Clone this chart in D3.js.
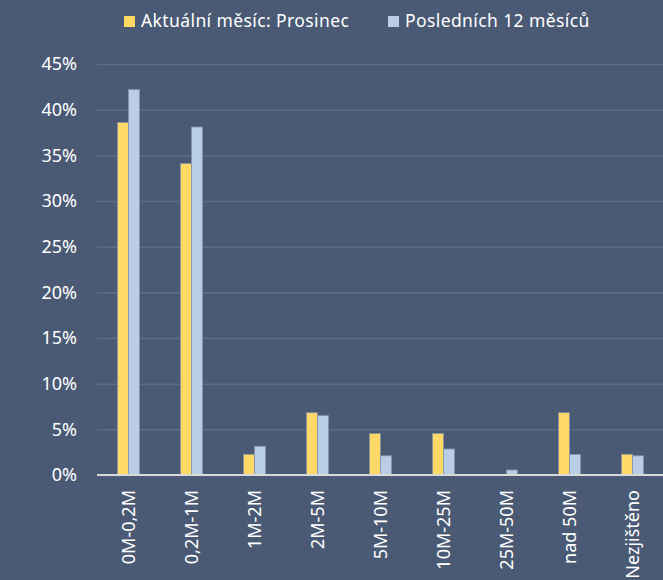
<!DOCTYPE html>
<html>
<head>
<meta charset="utf-8">
<script src="https://cdn.jsdelivr.net/npm/d3@7"></script>
<style>
  html, body { margin: 0; padding: 0; background: #4a5a74; }
  svg { display: block; }
  text { font-family: "Noto Sans", "Open Sans", sans-serif; fill: #ffffff; }
</style>
</head>
<body>
<script>
// Chart data.
var categories = ["0M-0,2M", "0,2M-1M", "1M-2M", "2M-5M", "5M-10M",
                  "10M-25M", "25M-50M", "nad 50M", "Nezjištěno"];
var seriesNames = ["Aktuální měsíc: Prosinec", "Posledních 12 měsíců"];
var currentMonth = [38.6, 34.1, 2.27, 6.82, 4.55, 4.55, 0, 6.82, 2.27];
var last12Months = [42.2, 38.1, 3.15, 6.5, 2.1, 2.85, 0.55, 2.25, 2.1];
var yTicks = [0, 5, 10, 15, 20, 25, 30, 35, 40, 45];
var colors = ["#ffd966", "#b9cde5"];

var width = 663,
    height = 580,
    margin = {top: 64, right: 0, bottom: 105, left: 97};

var svg = d3.select("body")
            .append("svg")
            .attr("width", width)
            .attr("height", height);

svg.append("rect")
   .attr("width", width)
   .attr("height", height)
   .attr("fill", "#4a5a74");

var x0 = d3.scaleBand()
           .domain(categories)
           .range([margin.left, width + 1])
           .paddingInner(0.65)
           .paddingOuter(0.325);

var x1 = d3.scaleBand()
           .domain([0, 1])
           .range([0, x0.bandwidth()]);

var y = d3.scaleLinear()
          .domain([0, 45])
          .range([height - margin.bottom, margin.top]);

// Gridlines and y labels
var yAxis = d3.axisLeft(y)
              .tickValues(yTicks)
              .tickSize(-(width - margin.left))
              .tickPadding(20)
              .tickFormat(function(d) { return d + "%"; });

var gy = svg.append("g")
            .attr("class", "y axis")
            .attr("transform", "translate(" + margin.left + ",0)")
            .call(yAxis);
gy.select(".domain").remove();
gy.selectAll(".tick line")
  .attr("stroke", "#5b6d89")
  .attr("stroke-width", 1.5);
gy.selectAll(".tick text")
  .attr("font-size", 18)
  .attr("fill", "#ffffff");

// Bars
var data = categories.map(function(c, i) {
    return {cat: c, values: [currentMonth[i], last12Months[i]]};
});

var groups = svg.selectAll("g.group")
                .data(data)
                .enter()
                .append("g")
                .attr("class", "group")
                .attr("transform", function(d) { return "translate(" + x0(d.cat) + ",0)"; });

groups.selectAll("rect")
      .data(function(d) { return d.values.map(function(v, k) { return {k: k, v: v}; }); })
      .enter()
      .filter(function(d) { return d.v > 0; })
      .append("rect")
      .attr("x", function(d) { return x1(d.k); })
      .attr("y", function(d) { return y(d.v); })
      .attr("width", x1.bandwidth())
      .attr("height", function(d) { return y(0) - y(d.v); })
      .attr("fill", function(d) { return colors[d.k]; })
      .attr("stroke", "#8593a8")
      .attr("stroke-width", 0.8);

// Zero line
svg.append("line")
   .attr("x1", margin.left)
   .attr("x2", width)
   .attr("y1", y(0))
   .attr("y2", y(0))
   .attr("stroke", "#d9d9d9")
   .attr("stroke-width", 2);

// Category labels
var xAxis = d3.axisBottom(x0).tickSize(0).tickPadding(0);
var gx = svg.append("g")
            .attr("class", "x axis")
            .attr("transform", "translate(0," + (y(0) + 15) + ")")
            .call(xAxis);
gx.select(".domain").remove();
gx.selectAll(".tick text")
  .attr("font-size", 18)
  .attr("fill", "#ffffff")
  .attr("text-anchor", "end")
  .attr("transform", "rotate(-90)")
  .attr("x", 0)
  .attr("y", 0)
  .attr("dy", "0.35em");

// Legend
var legendX = [124, 388];
var legend = svg.selectAll("g.legend")
                .data(seriesNames)
                .enter()
                .append("g")
                .attr("class", "legend")
                .attr("transform", function(d, i) { return "translate(" + legendX[i] + ",16)"; });
legend.append("rect")
      .attr("width", 11)
      .attr("height", 11)
      .attr("fill", function(d, i) { return colors[i]; });
legend.append("text")
      .attr("x", 17)
      .attr("y", 11)
      .attr("font-size", 17.5)
      .attr("letter-spacing", 0.4)
      .text(function(d) { return d; });
</script>
</body>
</html>
